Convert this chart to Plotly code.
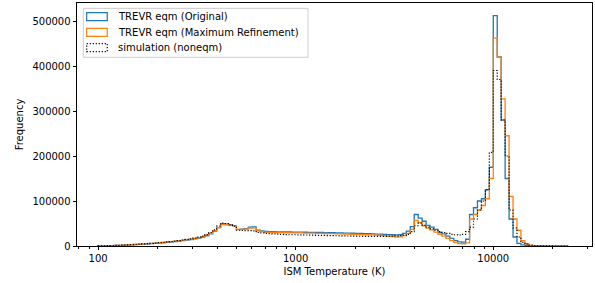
import numpy as np
import plotly.graph_objects as go

# Histogram bins: log-spaced in temperature
LOG_T_START = 2.0
BIN_DEX = 0.02

# Counts per bin, in thousands
original_k = [
    0.2, 0.4, 0.6, 0.85, 1.1, 1.4, 1.7, 2.1, 2.5, 3.0,
    3.5, 4.0, 4.5, 5.1, 5.7, 6.4, 7.1, 7.9, 8.8, 9.7,
    10.7, 11.8, 13.0, 14.3, 15.8, 17.6, 19.8, 22.8, 27.0, 33.0,
    41.0, 49.0, 48.5, 47.0, 45.5, 37.0, 37.5, 38.5, 42.0, 42.5,
    35.0, 33.5, 32.5, 32.0, 31.8, 31.6, 31.5, 31.4, 31.2, 31.0,
    30.9, 30.8, 30.6, 30.5, 30.3, 30.2, 30.0, 29.8, 29.7, 29.5,
    29.3, 29.0, 28.8, 28.5, 28.3, 28.0, 27.8, 27.5, 27.2, 27.0,
    26.6, 26.2, 25.8, 25.4, 25.0, 24.8, 25.0, 28.0, 33.0, 43.0,
    70.0, 62.0, 55.0, 46.0, 42.0, 37.0, 30.0, 27.0, 22.0, 17.0,
    12.0, 9.0, 8.5, 15.0, 70.0, 85.0, 100.0, 105.0, 125.0, 175.0,
    512.0, 420.0, 280.0, 150.0, 60.0, 20.0, 6.0, 2.5, 1.0, 0.5,
    0.3, 0.2, 0.1, 0.1, 0.05, 0.05, 0.0, 0.0, 0.0,
]
maxref_k = [
    0.3, 0.5, 0.7, 1.0, 1.3, 1.6, 2.0, 2.4, 2.9, 3.4,
    4.0, 4.5, 5.1, 5.8, 6.5, 7.2, 8.0, 8.9, 9.8, 10.8,
    11.8, 13.0, 14.2, 15.5, 17.0, 18.8, 21.0, 24.0, 28.0, 34.0,
    41.0, 47.5, 47.0, 46.0, 45.0, 36.5, 37.0, 37.5, 40.0, 40.5,
    33.5, 32.0, 31.0, 30.5, 30.2, 30.0, 29.8, 29.6, 29.5, 29.3,
    29.2, 29.0, 28.8, 28.6, 28.4, 28.2, 28.0, 27.8, 27.6, 27.4,
    27.2, 27.0, 26.7, 26.4, 26.1, 25.8, 25.5, 25.2, 24.9, 24.6,
    24.0, 23.4, 22.8, 22.0, 21.0, 20.0, 20.5, 23.0, 28.0, 37.0,
    57.0, 52.0, 45.0, 40.0, 36.0, 31.0, 26.0, 22.0, 17.0, 12.0,
    8.0, 5.5, 5.0, 7.0, 60.0, 70.0, 80.0, 90.0, 105.0, 150.0,
    462.0, 420.0, 327.0, 245.0, 110.0, 60.0, 35.0, 12.0, 5.0, 2.0,
    1.0, 0.5, 0.3, 0.2, 0.1, 0.05, 0.0, 0.0, 0.0,
]
simulation_k = [
    0.3, 0.5, 0.7, 1.0, 1.3, 1.6, 2.0, 2.4, 2.9, 3.4,
    4.0, 4.6, 5.2, 5.9, 6.6, 7.4, 8.2, 9.1, 10.0, 11.0,
    12.1, 13.3, 14.6, 16.0, 17.6, 19.6, 22.0, 25.5, 30.0, 36.0,
    44.0, 51.0, 50.0, 47.0, 44.0, 35.0, 34.5, 34.0, 34.0, 33.5,
    30.0, 29.0, 28.0, 27.5, 27.0, 26.5, 26.0, 25.5, 25.0, 25.0,
    24.8, 24.6, 24.4, 24.2, 24.0, 23.8, 23.6, 23.4, 23.2, 23.0,
    22.8, 22.6, 22.4, 22.2, 22.0, 21.8, 21.7, 21.6, 21.5, 21.5,
    21.5, 21.5, 21.6, 21.8, 22.0, 22.5, 23.0, 24.0, 26.0, 32.0,
    45.0, 51.0, 46.0, 42.0, 38.0, 35.0, 32.0, 30.0, 28.0, 26.0,
    25.0, 24.5, 26.0, 32.0, 42.0, 60.0, 80.0, 100.0, 125.0, 208.0,
    390.0, 370.0, 280.0, 200.0, 80.0, 40.0, 20.0, 8.0, 4.0, 2.0,
    1.0, 0.5, 0.3, 0.2, 0.1, 0.05, 0.0, 0.0, 0.0,
]

series_names = ["TREVR eqm (Original)", "TREVR eqm (Maximum Refinement)", "simulation (noneqm)"]
y_tick_vals = [0, 100000, 200000, 300000, 400000, 500000]
x_tick_vals = [100, 1000, 10000]
x_tick_text = ["100", "1000", "10000"]
x_label = "ISM Temperature (K)"
y_label = "Frequency"

colors = ["#1f77b4", "#ff7f0e", "#000000"]
dashes = ["solid", "solid", "1.2px,1.8px"]
widths = [1.3, 1.3, 1.2]


def step_xy(counts_k):
    counts = np.array(counts_k) * 1000.0
    n = len(counts)
    edges = 10 ** (LOG_T_START + BIN_DEX * np.arange(n + 1))
    xs = np.concatenate([[edges[0]], edges[:-1], [edges[-1]]])
    ys = np.concatenate([[0.0], counts, [0.0]])
    return xs, ys


fig = go.Figure()
for data, name, c, d, w in zip([original_k, maxref_k, simulation_k], series_names, colors, dashes, widths):
    xs, ys = step_xy(data)
    fig.add_trace(go.Scatter(x=xs, y=ys, mode="lines", line=dict(color=c, width=w, dash=d, shape="hv"),
                             name=name, showlegend=False))

FONT = "DejaVu Sans"
fig.update_layout(
    width=595, height=283,
    margin=dict(l=77, r=3, t=3, b=37),
    plot_bgcolor="white", paper_bgcolor="white",
    font=dict(family=FONT, size=10, color="black"),
)
minor_vals = []
for dec in [10, 100, 1000, 10000]:
    for m in range(2, 10):
        minor_vals.append(dec * m)
fig.update_xaxes(
    type="log", range=[np.log10(78.2), np.log10(31600)],
    tickvals=x_tick_vals, ticktext=x_tick_text,
    ticks="outside", ticklen=3.5, tickwidth=0.8, tickcolor="black",
    minor=dict(tickvals=minor_vals, ticks="outside", ticklen=2, tickwidth=0.6, tickcolor="black", showgrid=False),
    showline=True, linecolor="black", linewidth=0.8, mirror=True,
    showgrid=False, zeroline=False, automargin=False,
    title=dict(text=x_label, standoff=4, font=dict(size=10)),
)
fig.update_yaxes(
    range=[0, 540000],
    tickvals=y_tick_vals, ticktext=[str(v) for v in y_tick_vals],
    ticks="outside", ticklen=3.5, tickwidth=0.8, tickcolor="black",
    showline=True, linecolor="black", linewidth=0.8, mirror=True,
    showgrid=False, zeroline=False, automargin=False,
    title=dict(text=y_label, standoff=6, font=dict(size=10)),
)

# legend (matplotlib style) drawn in paper coordinates
fig.add_shape(type="rect", xref="paper", yref="paper", x0=0.0122, x1=0.4485, y0=0.7765, y1=0.978,
              line=dict(color="#cccccc", width=1), fillcolor="rgba(255,255,255,0.85)", layer="above")
entry_y = [0.9436, 0.8794, 0.8160]
for name, c, d, ey in zip(series_names, colors, dashes, entry_y):
    fig.add_shape(type="rect", xref="paper", yref="paper", x0=0.0188, x1=0.0588, y0=ey - 0.0165, y1=ey + 0.0165,
                  line=dict(color=c, width=1.2, dash=d), fillcolor="rgba(0,0,0,0)", layer="above")
    fig.add_annotation(text=name, xref="paper", yref="paper", x=0.0757, y=ey, xanchor="left", yanchor="middle",
                       showarrow=False, font=dict(family=FONT, size=10, color="black"))

fig.write_html("out.html", config={"displayModeBar": False},
               post_script="document.body.style.margin='0px';")
